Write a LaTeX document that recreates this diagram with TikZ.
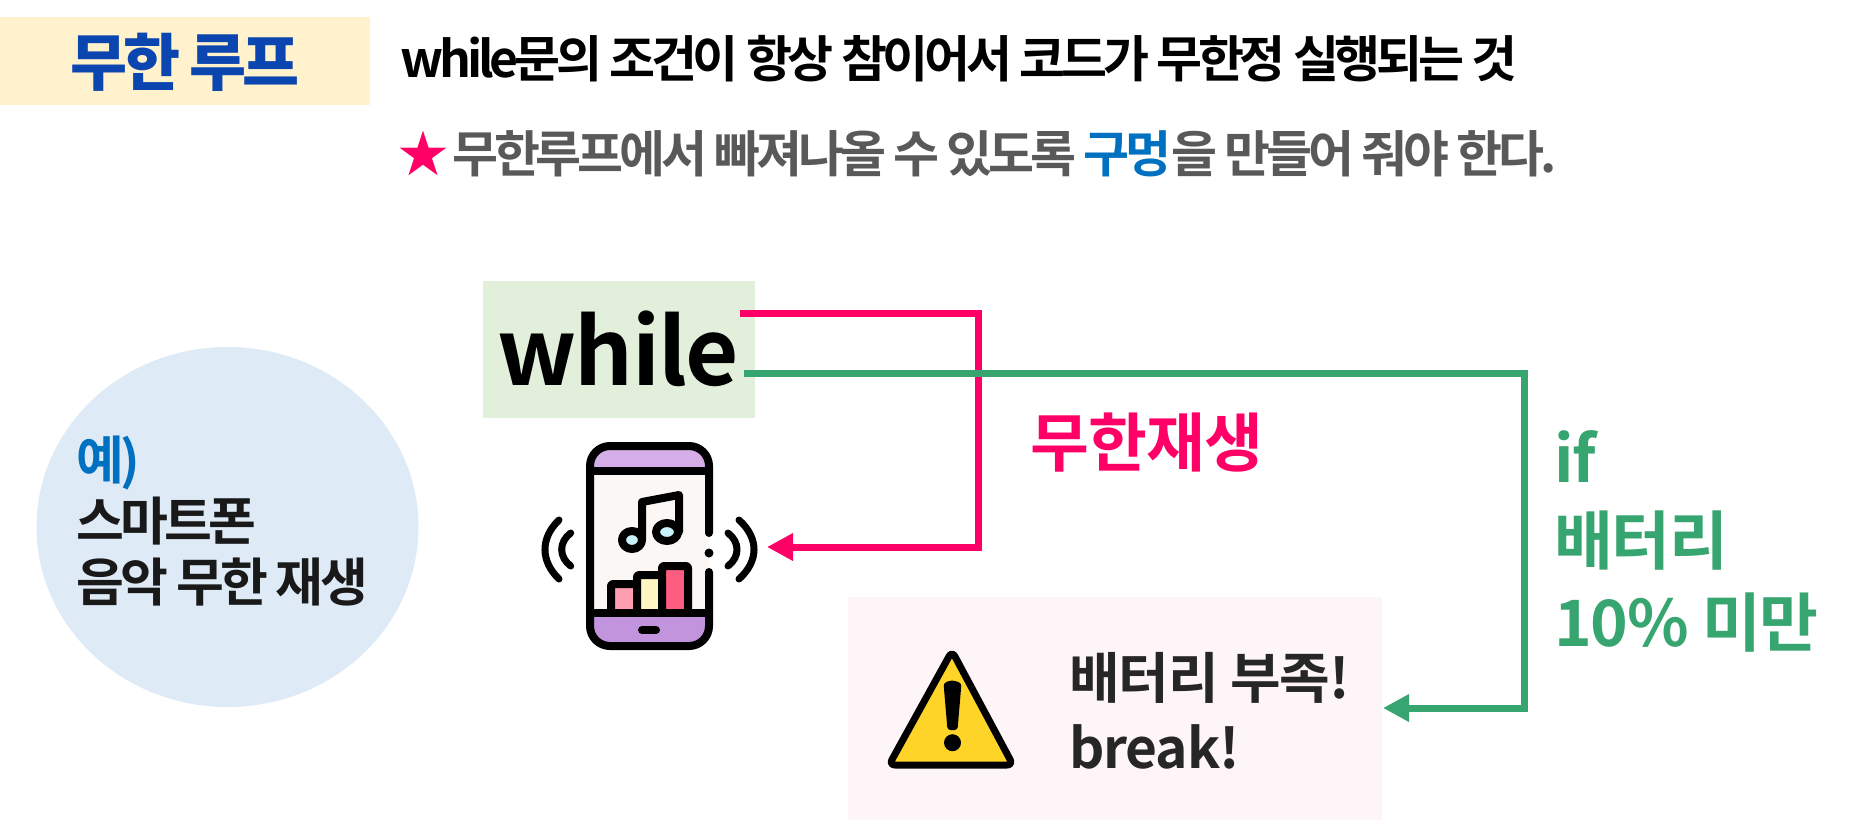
\documentclass[tikz,border=0pt]{standalone}
\usepackage{fontspec}
\setmainfont{Noto Sans CJK KR}[BoldFont={Noto Sans CJK KR Bold}]
\newfontfamily\krblack{Noto Sans CJK KR Black}
\usetikzlibrary{arrows.meta}
\definecolor{loopPink}{HTML}{FF0066}
\definecolor{loopGreen}{HTML}{36A56F}
\definecolor{titleBlue}{HTML}{0B45B0}
\definecolor{holeBlue}{HTML}{0070C0}
\definecolor{titleFill}{HTML}{FFF2CC}
\definecolor{whileFill}{HTML}{E2EFDA}
\definecolor{circleFill}{HTML}{DEEAF6}
\definecolor{warnFill}{HTML}{FEF5F8}
\definecolor{phoneTop}{HTML}{D5AEE8}
\definecolor{phoneBottom}{HTML}{C194DD}
\definecolor{phoneScreen}{HTML}{FBF7F4}
\definecolor{noteFill}{HTML}{C9F3FB}
\definecolor{warnYellow}{HTML}{FFD428}
\definecolor{barLow}{HTML}{FF9EB1}
\definecolor{barMid}{HTML}{FFF5C3}
\definecolor{barHigh}{HTML}{FF5C82}
\newcommand{\drawBar}[4]{
   	\draw[phoneLine, fill=#4, rounded corners=2pt] (#1,613) -- (#1,#3) -- (#2,#3) -- (#2,613) ;
}
\tikzset{
	txt/.style={inner sep=0pt, anchor=west, align=left, font=\bfseries},
	loopLine/.style={line width=7pt, -{Triangle[length=26pt,width=26pt]}},
	phoneLine/.style={line width=8pt, line cap=round, line join=round},
}
\begin{document}
\begin{tikzpicture}[x=1pt,y=-1pt]
\useasboundingbox (0,0) rectangle (1857,820);
%Backgrounds
\fill[titleFill] (0,17) rectangle (370,105);
\fill[warnFill] (848,597) rectangle (1382,820);
\fill[circleFill] (227.5,527) ellipse (191 and 180);
\node[fill=whileFill, minimum width=272pt, minimum height=137pt, inner sep=0pt] (whileBox) at (619,349) {};

%Header
\node[txt, anchor=center, text=titleBlue, font=\krblack\addfontfeature{LetterSpace=-7}\fontsize{62}{64}\selectfont] (title) at (185,62) {무한 루프};
\node[txt, font=\bfseries\addfontfeature{LetterSpace=-8.4}\fontsize{50}{54}\selectfont] (defText) at (400,59) {while문의 조건이 항상 참이어서 코드가 무한정 실행되는 것};
\node[txt, text=black!65, font=\bfseries\addfontfeature{LetterSpace=-8.3}\fontsize{50}{54}\selectfont] (tipText) at (398,154) {\textcolor{loopPink}{★}\hspace{4pt}무한루프에서 빠져나올 수 있도록 \textcolor{holeBlue}{구멍}을 만들어 줘야 한다.};

%Labels
\node[font=\bfseries\addfontfeature{LetterSpace=-2}\fontsize{92}{98}\selectfont, inner sep=0pt] (whileText) at (618,349) {while};
\node[txt, text=black!90, font=\bfseries\addfontfeature{LetterSpace=-7.3}\fontsize{52}{61}\selectfont] (exText) at (76,521) {\textcolor{holeBlue}{예)}\\스마트폰\\음악 무한 재생};
\node[txt, text=loopPink, font=\bfseries\addfontfeature{LetterSpace=-1}\fontsize{64}{70}\selectfont] (playText) at (1030,443) {무한재생};
\node[txt, text=loopGreen, font=\bfseries\addfontfeature{LetterSpace=-2}\fontsize{64}{82}\selectfont] (ifText) at (1554,541) {if\\배터리\\10\% 미만};
\node[txt, text=black!85, font=\bfseries\addfontfeature{LetterSpace=-2}\fontsize{55}{70}\selectfont] (breakText) at (1069,711) {배터리 부족!\\break!};

%Connectors
\coordinate (pinkStart) at (740,313);
\coordinate (pinkUp) at (978,313);
\coordinate (pinkDown) at (978,547);
\coordinate (phoneTip) at (767,547);
\coordinate (greenStart) at (744,373);
\coordinate (greenUp) at (1524,373);
\coordinate (greenDown) at (1524,708);
\coordinate (warnTip) at (1383,708);
\draw[loopLine, loopPink] (pinkStart) -- (pinkUp) -- (pinkDown) -- (phoneTip);
\draw[loopLine, loopGreen] (greenStart) -- (greenUp) -- (greenDown) -- (warnTip);

%Phone
\fill[phoneScreen, rounded corners=20pt] (590,446) rectangle (709,646);
\fill[phoneTop] (590,471) [rounded corners=20pt] -- (590,446) -- (709,446) [sharp corners] -- (709,471) -- cycle;
\fill[phoneBottom] (590,613) [rounded corners=20pt] -- (590,646) -- (709,646) [sharp corners] -- (709,613) -- cycle;
\drawBar{611}{637}{584}{barLow}
\drawBar{637}{662}{575}{barMid}
\drawBar{662}{688}{566}{barHigh}
\draw[phoneLine] (590,471) -- (709,471);
\draw[phoneLine] (590,613) -- (709,613);
\draw[phoneLine] (642,630) -- (656,630);
\draw[phoneLine, rounded corners=20pt] (709,533) -- (709,446) -- (590,446) -- (590,646) -- (709,646) -- (709,572);
\fill (709,553) circle (4.5);
%Note
\draw[phoneLine, fill=noteFill] (632,540) ellipse (10 and 9);
\draw[phoneLine, fill=noteFill] (667,532) ellipse (11 and 9);
\draw[phoneLine] (642,540) -- (642,502) -- (679,495) -- (679,532);
%Waves
\foreach \ex/\cx/\ya/\yb/\yc/\yd in {559/540.3/520/579/538/561, 570.7/558.7/533/566/542/557, 739/759/520/579/538/561, 728/740/533/566/542/557}
{
	\draw[phoneLine, line width=7pt] (\ex,\ya) .. controls (\cx,\yc) and (\cx,\yd) .. (\ex,\yb);
}

%Warning
\draw[line width=7pt, line join=round, fill=warnYellow, rounded corners=6pt] (952,651) -- (1013,765) -- (889,765) -- cycle;
\fill[rounded corners=3pt] (943.5,683) -- (952,680) -- (961.5,683) -- (957.5,730) -- (947.5,730) -- cycle;
\fill (952.5,742.7) circle (8.5);
\end{tikzpicture}
\end{document}
